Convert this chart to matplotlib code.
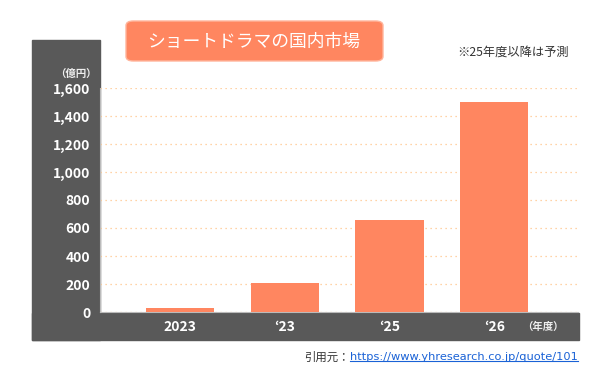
import matplotlib

matplotlib.use("Agg")
import matplotlib.pyplot as plt
from matplotlib.patches import FancyBboxPatch, Rectangle

plt.rcParams["font.family"] = ["Noto Sans CJK JP", "DejaVu Sans"]

# データ
years = ["2023", "\u201823", "\u201825", "\u201826"]
values = [30, 210, 660, 1500]
yticks = [0, 200, 400, 600, 800, 1000, 1200, 1400, 1600]

ORANGE = "#FF8660"
DARK = "#595959"

W, H = 611, 378
fig = plt.figure(figsize=(W / 100, H / 100), dpi=100)


def fx(px):
    return px / W


def fy(py):
    return 1 - py / H


# 濃いグレーの L 字帯
fig.patches.append(Rectangle((fx(32), fy(340)), fx(100 - 32), fy(40) - fy(340),
                             transform=fig.transFigure, color=DARK, zorder=-5))
fig.patches.append(Rectangle((fx(32), fy(340)), fx(579 - 32), fy(313) - fy(340),
                             transform=fig.transFigure, color=DARK, zorder=-5))

ax = fig.add_axes([fx(100), fy(312), fx(578 - 100), fy(88) - fy(312)], zorder=2)
x = range(len(years))
ax.bar(x, values, width=0.65, color=ORANGE, zorder=3)
ax.set_xlim(-0.764, 3.80)
ax.set_ylim(0, 1600)
ax.set_yticks(yticks)
ax.set_yticklabels([f"{v:,}" for v in yticks], color="white", fontsize=10, fontweight="bold")
ax.set_xticks(list(x))
ax.set_xticklabels(years, color="white", fontsize=10, fontweight="bold")
ax.tick_params(length=0, axis="y", pad=7)
ax.tick_params(length=0, axis="x", pad=6)
ax.grid(axis="y", color="#FFC58A", linestyle=(0, (1, 3)), linewidth=0.9, zorder=1)
for s in ["top", "right"]:
    ax.spines[s].set_visible(False)
ax.spines["left"].set_color("#BBBBBB")
ax.spines["bottom"].set_color("#BBBBBB")
ax.set_facecolor("none")

# タイトルボックス
fig.patches.append(FancyBboxPatch((fx(126), fy(61)), fx(383 - 126), fy(21) - fy(61),
                                  boxstyle="round,pad=0.0,rounding_size=0.012",
                                  transform=fig.transFigure, facecolor=ORANGE,
                                  edgecolor="#FFB59C", linewidth=1, zorder=1))
fig.text(fx(254), fy(42), "ショートドラマの国内市場", color="white", fontsize=12.8,
         ha="center", va="center")
fig.text(fx(457), fy(52), "※25年度以降は予測", color="#333333", fontsize=8.8,
         ha="left", va="center")
fig.text(fx(97), fy(74), "（億円）", color="#EEEEEE", fontsize=7.5, fontweight="bold",
         ha="right", va="center")
fig.text(fx(564), fy(327), "（年度）", color="#EEEEEE", fontsize=7.5, fontweight="bold",
         ha="right", va="center")

# 引用元
url = "https://www.yhresearch.co.jp/quote/101"
t_url = fig.text(fx(578), fy(357), url, color="#1A62D6", fontsize=8.2,
                 ha="right", va="center", family=["DejaVu Sans"])
fig.canvas.draw()
bb = t_url.get_window_extent()
fig.text(bb.x0 / fig.bbox.width, fy(357), "引用元：", color="#333333", fontsize=8.2,
         ha="right", va="center")
fig.lines.append(plt.Line2D([bb.x0 / fig.bbox.width, bb.x1 / fig.bbox.width],
                            [bb.y0 / fig.bbox.height + 0.002] * 2,
                            transform=fig.transFigure, color="#1A62D6", linewidth=0.8))

fig.savefig("out.png", dpi=100)
